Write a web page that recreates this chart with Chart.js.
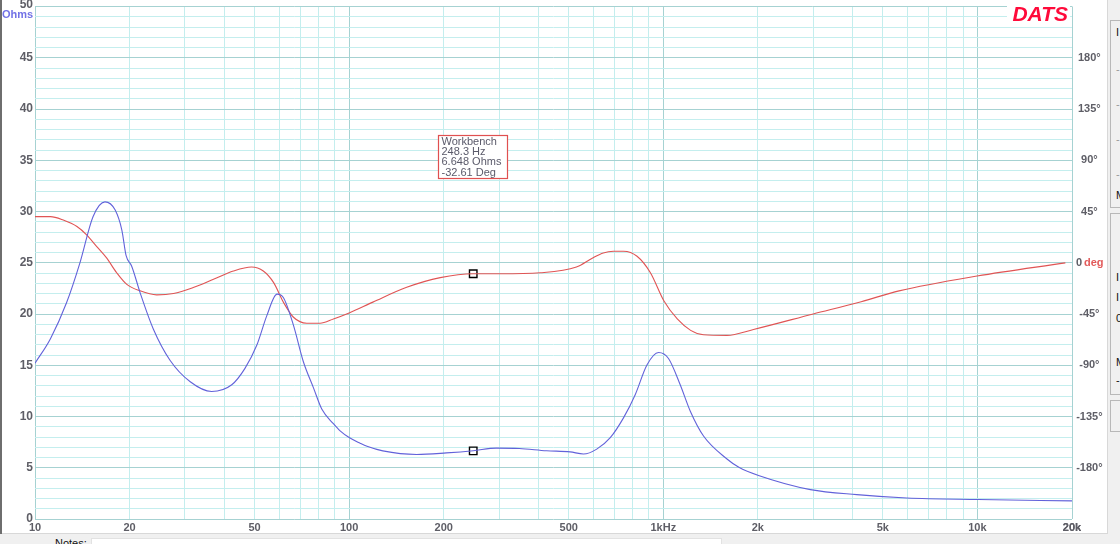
<!DOCTYPE html>
<html>
<head>
<meta charset="utf-8">
<script src="https://cdn.jsdelivr.net/npm/chart.js@4.4.1/dist/chart.umd.min.js"></script>
<style>
  html, body { margin: 0; padding: 0; }
  body { width: 1120px; height: 544px; overflow: hidden; background: #f0f0f0; position: relative;
         font-family: "Liberation Sans", Arial, sans-serif; }
  #panel { position: absolute; left: 0; top: 0; width: 1107px; height: 533px; background: #fff;
           border-right: 1px solid #d8d8d8; border-bottom: 1px solid #d8d8d8; }
  #edge { position: absolute; left: 0; top: 0; width: 2px; height: 534px; background: #6e6e6e; }
  canvas { position: absolute; left: 0; top: 0; }
  .grp { position: absolute; left: 1110px; width: 30px; border: 1px solid #b8b8b8; border-right: none; }
  .frag { position: absolute; left: 1116px; font-size: 11px; color: #111; }
  #notesLbl { position: absolute; left: 55px; top: 537px; font-size: 11px; color: #111; }
  #notesBox { position: absolute; left: 91px; top: 538px; width: 629px; height: 12px; background: #fff;
              border: 1px solid #e2e2e2; }
</style>
</head>
<body>
<div id="panel"></div>
<canvas id="datschart" width="1108" height="534"></canvas>
<div id="edge"></div>

<div class="grp" style="top:20px;height:186px"></div>
<div class="frag" style="top:26px">I</div>
<div class="frag" style="top:63px;color:#999">-</div>
<div class="frag" style="top:98px;color:#999">-</div>
<div class="frag" style="top:133px;color:#999">-</div>
<div class="frag" style="top:168px;color:#999">-</div>
<div class="frag" style="top:189px">M</div>
<div class="grp" style="top:213px;height:180px"></div>
<div class="frag" style="top:271px">I</div>
<div class="frag" style="top:291px">I</div>
<div class="frag" style="top:312px">0</div>
<div class="frag" style="top:356px">M</div>
<div class="frag" style="top:374px">-</div>
<div class="grp" style="top:400px;height:30px"></div>

<div id="notesLbl">Notes:</div>
<div id="notesBox"></div>

<script>
// impedance magnitude (blue)
var impFreq = [10, 11.2, 12.6, 13.9, 15.3, 16.7, 18.0, 18.9, 19.5, 20.3, 21.6, 23.8, 26.9, 31.2, 36.5,
    42.3, 46.6, 50.8, 54.7, 58.9, 61.8, 66.5, 71.5, 77, 81.9, 89.1, 93.6, 100, 108.4, 114, 128, 164, 204,
    248.3, 294, 348, 425, 505, 557, 614, 678, 747, 814, 887, 966, 1039, 1132, 1219, 1343, 1595, 1740,
    2010, 2940, 4130, 5960, 10070, 20000];
var impOhms = [15.2, 17.6, 21.1, 25.0, 29.5, 30.95, 30.15, 28.2, 25.7, 24.7, 22.1, 18.55, 15.5, 13.4, 12.45,
    13.1, 14.7, 16.95, 19.85, 21.95, 21.6, 18.9, 15.35, 12.8, 10.7, 9.3, 8.6, 7.95, 7.4, 7.1, 6.65, 6.3, 6.45,
    6.66, 6.92, 6.88, 6.66, 6.55, 6.34, 6.82, 7.94, 9.87, 12.13, 15.03, 16.25, 15.67, 13.1, 10.52, 8.1, 5.86, 5.05,
    4.25, 2.87, 2.38, 2.05, 1.9, 1.77];

// phase (red), degrees on the right axis
var phaseFreq = [10, 11.2, 12.3, 13.6, 14.6, 15.7, 16.9, 18.2, 19.6, 21.6, 24.4, 27.6, 31.9, 37, 42.8,
    48.9, 53.3, 57.5, 61.8, 66.5, 73.3, 80.8, 89.1, 100, 119, 152.5, 195, 248.3, 302, 406, 529, 596,
    644, 694, 747, 825, 910, 1004, 1108, 1222, 1343, 1595, 1937, 3000, 4265, 5630, 9970, 19050];
var phaseDeg = [40.6, 40.6, 37.6, 31.9, 24.6, 14.5, 4.3, -8.7, -18.9, -24.6, -28.1, -26.9, -21.7, -14.5, -7.2,
    -3.7, -7.2, -17.4, -34.7, -47.8, -53, -53, -49.3, -44, -34.5, -21.5, -13, -9.6, -9.6, -8.7, -3.7, 4.3,
    8.7, 10.2, 10.2, 5.8, -8.7, -33.3, -49.3, -59.3, -63.2, -63.7, -58.5, -44.9, -34.1, -24.6, -11.6, 0];

// cursor marker
var markerHz = 248.3;
var markerOhms = 6.648;
var markerDegPlotted = -9.6;
var markerText = ["Workbench", "248.3 Hz", "6.648 Ohms", "-32.61 Deg"];

// axis ticks
var xLabelValues = [10, 20, 50, 100, 200, 500, 1000, 2000, 5000, 10000, 20000];
var xLabelTexts = ["10", "20", "50", "100", "200", "500", "1kHz", "2k", "5k", "10k", "20k"];
var xMajorValues = [10, 100, 1000, 10000, 20000];
var ohmMin = 0, ohmMax = 50, ohmStep = 1, ohmLabelEvery = 5;
var degMin = -225, degMax = 225, degStep = 9, degLabelEvery = 45, degLabelMax = 180;

var minorGrid = '#c4eeee';
var majorGrid = '#a6d2d2';
var labelColor = '#5e5e66';
var labelFont = '"Liberation Sans", Arial, sans-serif';

var gridFreqs = [];
for (let d of [10, 100, 1000, 10000]) {
    for (let m = 1; m <= 9; m++) gridFreqs.push(m * d);
}
gridFreqs.push(20000);

function toPoints(xs, ys) {
    var pts = [];
    for (let i = 0; i < xs.length; i++) pts.push({x: xs[i], y: ys[i]});
    return pts;
}

function stepTicks(min, max, step) {
    var t = [];
    for (let v = min; v <= max + 1e-9; v += step) t.push({value: Math.round(v * 1000) / 1000});
    return t;
}

var overlayText = {
    id: 'overlayText',
    afterDraw: function (chart) {
        var ctx = chart.ctx;
        var xs = chart.scales.x, y2 = chart.scales.y2;
        ctx.save();

        // top label of the left axis sits just inside the canvas
        ctx.font = 'bold 12px ' + labelFont;
        ctx.fillStyle = labelColor;
        ctx.textAlign = 'right';
        ctx.textBaseline = 'middle';
        ctx.fillText(String(ohmMax), 33, 4.5);

        // unit label of left axis
        ctx.font = 'bold 11px ' + labelFont;
        ctx.fillStyle = '#7272e6';
        ctx.textAlign = 'left';
        ctx.fillText('Ohms', 2, 14.5);

        // "0 deg" on the right axis
        var y0 = y2.getPixelForValue(0);
        ctx.fillStyle = labelColor;
        ctx.fillText('0', 1076, y0);
        ctx.fillStyle = '#e25a5a';
        ctx.fillText('deg', 1084, y0);

        // DATS logo
        ctx.fillStyle = '#ffffff';
        ctx.fillRect(1007, 5, 63, 18);
        ctx.font = 'italic bold 21px ' + labelFont;
        ctx.fillStyle = '#ff0a3a';
        ctx.textAlign = 'right';
        ctx.textBaseline = 'alphabetic';
        ctx.fillText('DATS', 1068, 21);

        // cursor readout box
        var bx = Math.round(xs.getPixelForValue(markerHz)) - 35 + 0.5;
        var by = 135.5;
        ctx.fillStyle = '#ffffff';
        ctx.fillRect(bx, by, 69, 43);
        ctx.strokeStyle = '#e05050';
        ctx.lineWidth = 1.2;
        ctx.strokeRect(bx, by, 69, 43);
        ctx.font = '11px ' + labelFont;
        ctx.fillStyle = '#5a5a6a';
        ctx.textAlign = 'left';
        ctx.textBaseline = 'middle';
        for (let i = 0; i < markerText.length; i++) {
            ctx.fillText(markerText[i], bx + 3, by + 6.5 + i * 10.2);
        }
        ctx.restore();
    }
};

var ctx = document.getElementById('datschart').getContext('2d');
var chart = new Chart(ctx, {
    type: 'line',
    data: {
        datasets: [{
            label: 'Impedance',
            data: toPoints(impFreq, impOhms),
            borderColor: '#6262da',
            borderWidth: 1.1,
            pointRadius: 0,
            cubicInterpolationMode: 'monotone',
            yAxisID: 'y'
        }, {
            label: 'Phase',
            data: toPoints(phaseFreq, phaseDeg),
            borderColor: '#e05454',
            borderWidth: 1.1,
            pointRadius: 0,
            cubicInterpolationMode: 'monotone',
            yAxisID: 'y2'
        }, {
            label: 'Cursor Ohms',
            data: [{x: markerHz, y: markerOhms}],
            showLine: false,
            pointStyle: 'rect',
            pointRadius: 5.3,
            pointBorderColor: '#000',
            pointBackgroundColor: 'rgba(0,0,0,0)',
            pointBorderWidth: 1.4,
            yAxisID: 'y'
        }, {
            label: 'Cursor Deg',
            data: [{x: markerHz, y: markerDegPlotted}],
            showLine: false,
            pointStyle: 'rect',
            pointRadius: 5.3,
            pointBorderColor: '#000',
            pointBackgroundColor: 'rgba(0,0,0,0)',
            pointBorderWidth: 1.4,
            yAxisID: 'y2'
        }]
    },
    options: {
        responsive: false,
        animation: false,
        devicePixelRatio: 1,
        layout: { padding: { top: 1, left: 0, right: 0, bottom: 0 } },
        plugins: {
            legend: { display: false },
            tooltip: { enabled: false }
        },
        scales: {
            x: {
                type: 'logarithmic',
                min: 10,
                max: 20000,
                border: { display: false },
                grid: {
                    drawTicks: false,
                    lineWidth: 1,
                    color: function (c) {
                        return c.tick && xMajorValues.indexOf(c.tick.value) >= 0 ? majorGrid : minorGrid;
                    }
                },
                afterBuildTicks: function (scale) {
                    scale.ticks = gridFreqs.map(function (v) { return {value: v}; });
                },
                afterFit: function (scale) {
                    scale.height = 15;
                    scale.paddingLeft = 0;
                    scale.paddingRight = 0;
                },
                ticks: {
                    autoSkip: false,
                    maxRotation: 0,
                    minRotation: 0,
                    padding: 2,
                    color: labelColor,
                    font: { family: labelFont, size: 11, weight: 'bold' },
                    callback: function (value) {
                        var i = xLabelValues.indexOf(value);
                        return i >= 0 ? xLabelTexts[i] : '';
                    }
                }
            },
            y: {
                position: 'left',
                min: ohmMin,
                max: ohmMax,
                border: { display: false },
                grid: {
                    drawTicks: false,
                    color: function (c) {
                        return c.tick && c.tick.value % ohmLabelEvery === 0 ? majorGrid : minorGrid;
                    }
                },
                afterBuildTicks: function (scale) {
                    scale.ticks = stepTicks(ohmMin, ohmMax, ohmStep);
                },
                afterFit: function (scale) {
                    scale.width = 35;
                    scale.paddingTop = 0;
                    scale.paddingBottom = 0;
                },
                ticks: {
                    autoSkip: false,
                    padding: 2,
                    color: labelColor,
                    font: { family: labelFont, size: 12, weight: 'bold', lineHeight: 0.1 },
                    callback: function (v) {
                        if (v === ohmMax) return '';
                        return v % ohmLabelEvery === 0 ? String(v) : '';
                    }
                }
            },
            y2: {
                position: 'right',
                min: degMin,
                max: degMax,
                border: { display: false },
                grid: { display: false, drawTicks: false },
                afterBuildTicks: function (scale) {
                    scale.ticks = stepTicks(degMin, degMax, degStep);
                },
                afterFit: function (scale) {
                    scale.width = 36;
                    scale.paddingTop = 0;
                    scale.paddingBottom = 0;
                },
                ticks: {
                    autoSkip: false,
                    padding: 3,
                    crossAlign: 'center',
                    color: function (c) {
                        return c.tick && c.tick.value === 0 ? 'rgba(0,0,0,0)' : labelColor;
                    },
                    font: { family: labelFont, size: 11, weight: 'bold', lineHeight: 0.1 },
                    callback: function (v) {
                        if (v % degLabelEvery !== 0 || Math.abs(v) > degLabelMax) return '';
                        return v === 0 ? '0 deg' : v + '\u00b0';
                    }
                }
            }
        }
    },
    plugins: [overlayText]
});
</script>
</body>
</html>
